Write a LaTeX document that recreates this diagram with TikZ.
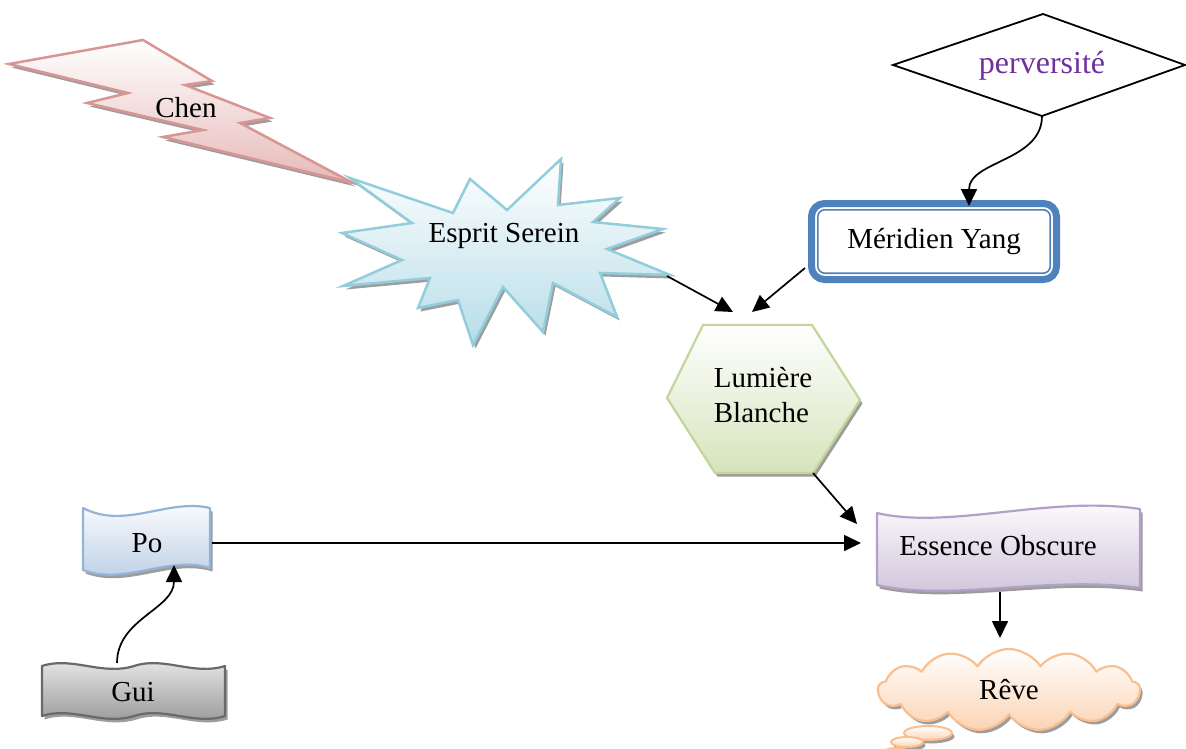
\documentclass[tikz,border=0pt]{standalone}
\usepackage{fontspec}
\setmainfont{Liberation Serif}
\usetikzlibrary{arrows.meta,shapes.symbols,shadows}
\definecolor{chenF}{RGB}{230,185,184}
\definecolor{chenL}{RGB}{217,149,148}
\definecolor{starF}{RGB}{183,221,232}
\definecolor{starL}{RGB}{146,205,220}
\definecolor{hexF}{RGB}{214,227,188}
\definecolor{hexL}{RGB}{194,214,155}
\definecolor{essF}{RGB}{204,192,217}
\definecolor{essL}{RGB}{178,161,199}
\definecolor{reveF}{RGB}{251,212,180}
\definecolor{reveL}{RGB}{250,191,143}
\definecolor{poF}{RGB}{184,204,228}
\definecolor{poL}{RGB}{149,179,215}
\definecolor{guiF}{RGB}{150,150,150}
\definecolor{guiL}{RGB}{105,105,105}
\definecolor{mblue}{RGB}{79,129,189}
\definecolor{pervC}{RGB}{112,48,160}
\begin{document}
\begin{tikzpicture}[x=1pt,y=-1pt,line join=round,
  lbl/.style={font=\fontsize{29}{35}\selectfont, inner sep=0pt},
  arr/.style={-{Triangle[length=17pt,width=16pt]}, line width=1.7pt},
  shd/.style={drop shadow={shadow xshift=2.5pt,shadow yshift=-3.5pt,fill=black!55,opacity=0.7}},
  chenp/.style={insert path={(9,64) -- (143,40) -- (212,81) -- (185,85) -- (270,118) -- (240,123) -- (353,183) -- (163,137) -- (203,130) -- (87,103) -- (128,93) -- cycle}},
  starp/.style={insert path={(350,178) -- (453,213) -- (470,179) -- (507,210) -- (561,159) -- (558,205) -- (620,198) -- (593,222) -- (663,229) -- (607,249) -- (670,275) -- (600,273) -- (617,317) -- (553,283) -- (543,332) -- (503,287) -- (473,345) -- (458,300) -- (418,308) -- (430,278) -- (343,286) -- (402,260) -- (342,233) -- (412,223) -- cycle}},
  hexp/.style={insert path={(667,398) -- (703,325) -- (812,325) -- (860,400) -- (813,473) -- (715,473) -- cycle}},
  pop/.style={insert path={(83,508) .. controls (125,530) and (168,498) .. (210,508) -- (210,568) .. controls (168,555) and (125,586) .. (83,570) -- cycle}},
  essp/.style={insert path={(877,513) .. controls (950,530) and (1050,495) .. (1140,509) -- (1140,588) .. controls (1050,575) and (950,602) .. (877,585) -- cycle}},
  guip/.style={insert path={(42,666) .. controls (72,656) and (102,676) .. (134,666) .. controls (164,656) and (194,676) .. (225,666) -- (225,716) .. controls (194,726) and (164,706) .. (134,716) .. controls (102,726) and (72,706) .. (42,716) -- cycle}}
]
\useasboundingbox (0,0) rectangle (1186,749);

% Chen
\path[shd,top color=white,bottom color=chenF,draw=chenL,line width=2.5pt,line join=miter,chenp];
\node[lbl] (chen) at (186,108) {Chen};

% Esprit Serein
\path[shd,top color=white,bottom color=starF,draw=starL,line width=2.5pt,line join=miter,starp];
\node[lbl] (esprit) at (504,236) {Esprit Serein};

% perversite
\draw[line width=1.8pt,line join=miter] (893,65) -- (1043,14) -- (1185,65) -- (1042,116) -- cycle;
\node[lbl,font=\fontsize{32}{38}\selectfont,text=pervC] (perv) at (1042,66) {perversité};
\coordinate (pervB) at (1042,116);

% Meridien Yang
\node[lbl,draw=mblue,line width=7pt,rounded corners=13pt,minimum width=245pt,minimum height=76pt] (meridien) at (934,241.5) {Méridien Yang};
\draw[mblue,line width=1.6pt,rounded corners=7pt] ([shift={(9.8,9.8)}]meridien.north west) rectangle ([shift={(-9.8,-9.8)}]meridien.south east);

% Lumiere Blanche
\path[shd,top color=white,bottom color=hexF,draw=hexL,line width=2.2pt,line join=miter,hexp];
\node[lbl,align=left] (lumiere) at (763,395) {Lumière\\Blanche};

% Essence Obscure
\path[shd,top color=white,bottom color=essF,draw=essL,line width=2.2pt,essp];
\node[lbl] (essence) at (998,546) {Essence Obscure};

% Reve
\fill[black!55,opacity=0.7] (930.5,736.5) ellipse [x radius=24,y radius=7];
\fill[black!55,opacity=0.7] (909.5,745.5) ellipse [x radius=16,y radius=5];
\node[cloud,cloud puffs=13,cloud puff arc=115,aspect=3.2,minimum width=262pt,minimum height=82pt,inner sep=0pt,
  shd,top color=white,bottom color=reveF,draw=reveL,line width=2.2pt,font=\fontsize{29}{35}\selectfont] (reve) at (1009,690) {Rêve};
\path[top color=white,bottom color=reveF,draw=reveL,line width=2pt] (928,733) ellipse [x radius=24,y radius=7];
\path[top color=white,bottom color=reveF,draw=reveL,line width=2pt] (907,742) ellipse [x radius=16,y radius=5];
\path[top color=white,bottom color=reveF,draw=reveL,line width=2pt] (896,753) ellipse [x radius=13,y radius=5];

% Po
\path[shd,top color=white,bottom color=poF,draw=poL,line width=2.2pt,pop];
\node[lbl] (po) at (147,543) {Po};

% Gui
\path[shd,top color=white!92!black,bottom color=guiF,draw=guiL,line width=2.2pt,guip];
\node[lbl] (gui) at (133,692) {Gui};

% connector end points
\coordinate (espritE) at (667,276);
\coordinate (lumTL) at (733,312);
\coordinate (merW) at (805,268);
\coordinate (lumTR) at (752,312);
\coordinate (lumBR) at (813,473);
\coordinate (essNW) at (857,524);
\coordinate (poE) at (212,543);
\coordinate (essW) at (861,543);
\coordinate (essS) at (1000,592);
\coordinate (reveN) at (1000,638);
\coordinate (merN) at (969,206);
\coordinate (guiN) at (117,663);
\coordinate (poS) at (174,565);

% connectors
\draw[arr] (espritE) -- (lumTL);
\draw[arr] (merW) -- (lumTR);
\draw[arr] (lumBR) -- (essNW);
\draw[arr] (poE) -- (essW);
\draw[arr] (essS) -- (reveN);
\draw[arr] (pervB) to[out=-90,in=90] (merN);
\draw[arr] (guiN) to[out=90,in=-90] (poS);
\end{tikzpicture}
\end{document}
